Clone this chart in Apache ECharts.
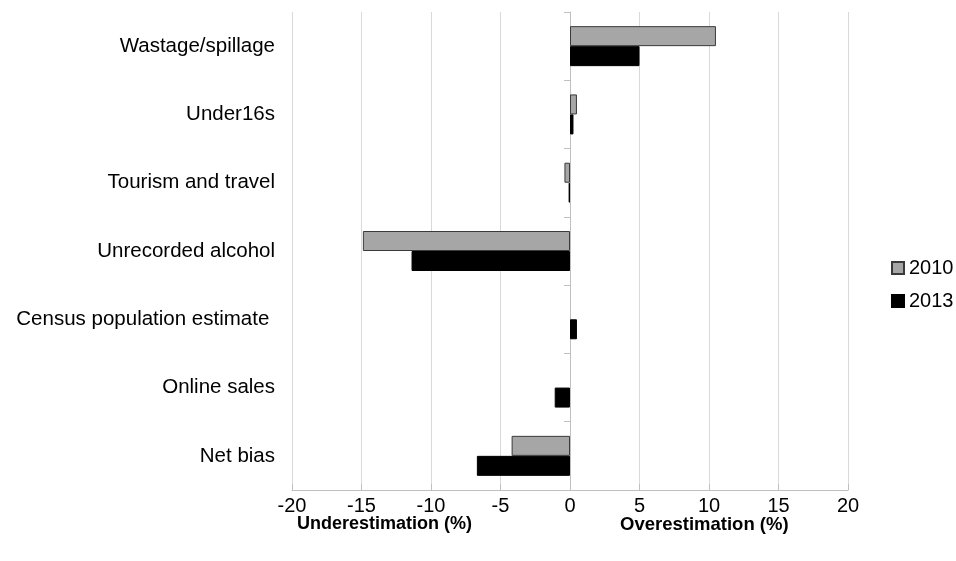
<!DOCTYPE html>
<html><head><meta charset="utf-8">
<script src="https://cdn.jsdelivr.net/npm/echarts@6/dist/echarts.min.js"></script>
<style>html,body{margin:0;padding:0;background:#fff}#c{width:956px;height:561px}</style>
</head><body><div id="c"></div>
<script>
const categories = ['Wastage/spillage','Under16s','Tourism and travel','Unrecorded alcohol','Census population estimate ','Online sales','Net bias'];
const values2010 = [10.5, 0.5, -0.4, -14.9, 0, 0, -4.2];
const values2013 = [5.0, 0.25, -0.1, -11.4, 0.5, -1.1, -6.7];
const xTicks = {min: -20, max: 20, interval: 5};
const axisTitles = ['Underestimation (%)', 'Overestimation (%)'];

const font = 'Liberation Sans, Arial, sans-serif';
function toData(arr) {
  return arr.map(v => v === 0 ? {value: 0, itemStyle: {borderWidth: 0}} : v);
}
const chart = echarts.init(document.getElementById('c'), null, {renderer: 'canvas'});
chart.setOption({
  animation: false,
  backgroundColor: '#fff',
  textStyle: {fontFamily: font},
  grid: {left: 292, right: 108, top: 12, bottom: 71, containLabel: false},
  legend: {
    orient: 'vertical', left: 891, top: 258, padding: 0, itemWidth: 12, itemHeight: 12, itemGap: 13,
    icon: 'rect',
    textStyle: {fontSize: 20, color: '#000', fontFamily: font},
    data: ['2010', '2013']
  },
  xAxis: {
    type: 'value', min: xTicks.min, max: xTicks.max, interval: xTicks.interval,
    axisLine: {show: true, lineStyle: {color: '#bfbfbf', width: 1}},
    axisTick: {show: true, inside: true, length: 6, lineStyle: {color: '#bfbfbf'}},
    axisLabel: {fontSize: 20, color: '#000', margin: 6, fontFamily: font},
    splitLine: {show: true, lineStyle: {color: '#d9d9d9', width: 1}}
  },
  yAxis: [{
    type: 'category', data: categories, inverse: true, position: 'left',
    axisLine: {show: false, onZero: false},
    axisTick: {show: false},
    axisLabel: {fontSize: 20.5, color: '#000', margin: 17, fontFamily: font}
  }, {
    type: 'category', data: categories, inverse: true, position: 'left',
    axisLine: {show: true, onZero: true, lineStyle: {color: '#bfbfbf', width: 1}},
    axisTick: {show: true, length: 6, lineStyle: {color: '#bfbfbf'}},
    axisLabel: {show: false}
  }],
  series: [{
    name: '2010', type: 'bar', yAxisIndex: 0, data: toData(values2010),
    barWidth: 20, barGap: '0%',
    itemStyle: {color: '#a6a6a6', borderColor: '#3a3a3a', borderWidth: 1}
  }, {
    name: '2013', type: 'bar', yAxisIndex: 0, data: toData(values2013),
    barWidth: 20, barGap: '0%',
    itemStyle: {color: '#000', borderColor: '#000', borderWidth: 1}
  }],
  graphic: [{
    type: 'text', left: 297, top: 515,
    style: {text: axisTitles[0], font: 'bold 18px ' + font, fill: '#000'}
  }, {
    type: 'text', left: 620, top: 515,
    style: {text: axisTitles[1], font: 'bold 18.5px ' + font, fill: '#000'}
  }]
});
</script>
</body></html>
